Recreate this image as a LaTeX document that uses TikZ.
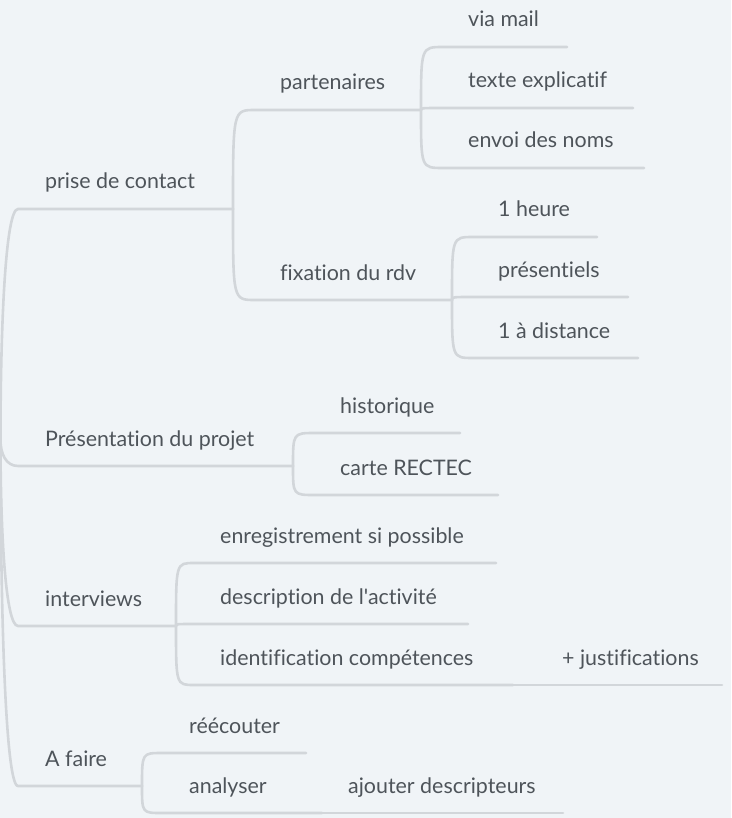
\documentclass[tikz,border=0pt]{standalone}
\usepackage{fontspec}
\setmainfont{Lato}[Ligatures={TeXOff,NoCommon}]
\usetikzlibrary{calc}
\definecolor{bgc}{HTML}{F0F4F7}
\definecolor{linec}{HTML}{D2D6DA}
\definecolor{textc}{HTML}{4E545A}
\tikzset{
  lbl/.style={anchor=base west, inner sep=0pt, text=textc, font=\fontsize{21.4}{24}\selectfont},
  br/.style={draw=linec, line width=2.6pt, line cap=round}
}
\begin{document}
\begin{tikzpicture}[x=1pt,y=-1pt]
\fill[bgc] (0,0) rectangle (731,818);
\useasboundingbox (0,0) rectangle (731,818);
\coordinate (R) at (0.5,440);
% level 1
\coordinate (a1s) at (18,209); \coordinate (a1e) at (233,209);
\coordinate (a2s) at (18,466); \coordinate (a2e) at (293,466);
\coordinate (a3s) at (18,626); \coordinate (a3e) at (176,626);
\coordinate (a4s) at (18,786); \coordinate (a4e) at (142,786);
% level 2
\coordinate (b1s) at (255,110); \coordinate (b1e) at (421,110);
\coordinate (b2s) at (255,300); \coordinate (b2e) at (452,300);
\coordinate (b3s) at (315,433); \coordinate (b3e) at (460,433);
\coordinate (b4s) at (315,495); \coordinate (b4e) at (498,495);
\coordinate (b5s) at (194,563); \coordinate (b5e) at (496,563);
\coordinate (b6s) at (194,624); \coordinate (b6e) at (468,624);
\coordinate (b7s) at (194,685); \coordinate (b7e) at (513,685);
\coordinate (b8s) at (162,753); \coordinate (b8e) at (306,753);
\coordinate (b9s) at (162,813); \coordinate (b9e) at (322,813);
% level 3
\coordinate (c1s) at (443,47);  \coordinate (c1e) at (567,47);
\coordinate (c2s) at (443,108); \coordinate (c2e) at (633,108);
\coordinate (c3s) at (443,168); \coordinate (c3e) at (644,168);
\coordinate (c4s) at (473,237); \coordinate (c4e) at (597,237);
\coordinate (c5s) at (473,297); \coordinate (c5e) at (628,297);
\coordinate (c6s) at (473,358); \coordinate (c6e) at (638,358);
\coordinate (c7s) at (536,685); \coordinate (c7e) at (722,685);
\coordinate (c8s) at (324,813); \coordinate (c8e) at (563,813);

% connectors from the root (gentle slant, rounded corner)
\foreach \c in {a1,a2,a3,a4}
  \draw[br] (R) .. controls ($(R)!0.5!(R |- \c s)$) and ($(R |- \c s)+(5,0)$) .. (\c s) -- (\c e);
% other connectors
\foreach \p/\c in {a1e/b1,a1e/b2,a2e/b3,a2e/b4,a3e/b5,a3e/b6,a3e/b7,a4e/b8,a4e/b9,b1e/c1,b1e/c2,b1e/c3,b2e/c4,b2e/c5,b2e/c6,b7e/c7,b9e/c8}
  \draw[br] (\p) .. controls (\p |- \c s) .. (\c s) -- (\c e);

% labels
\node[lbl] (a1) at (45,189) {prise de contact};
\node[lbl] (a2) at (45,446) {Présentation du projet};
\node[lbl] (a3) at (45,606) {interviews};
\node[lbl] (a4) at (45,766) {A faire};
\node[lbl] (b1) at (280,90) {partenaires};
\node[lbl] (b2) at (280,280) {fixation du rdv};
\node[lbl] (b3) at (340,413) {historique};
\node[lbl] (b4) at (340,475) {carte RECTEC};
\node[lbl] (b5) at (220,543) {enregistrement si possible};
\node[lbl] (b6) at (220,604) {description de l'activité};
\node[lbl] (b7) at (220,665) {identification compétences};
\node[lbl] (b8) at (189,733) {réécouter};
\node[lbl] (b9) at (189,793) {analyser};
\node[lbl] (c1) at (468,27) {via mail};
\node[lbl] (c2) at (468,88) {texte explicatif};
\node[lbl] (c3) at (468,148) {envoi des noms};
\node[lbl] (c4) at (498,217) {1 heure};
\node[lbl] (c5) at (498,277) {présentiels};
\node[lbl] (c6) at (498,338) {1 à distance};
\node[lbl] (c7) at (562,665) {+ justifications};
\node[lbl] (c8) at (348,793) {ajouter descripteurs};
\end{tikzpicture}
\end{document}
